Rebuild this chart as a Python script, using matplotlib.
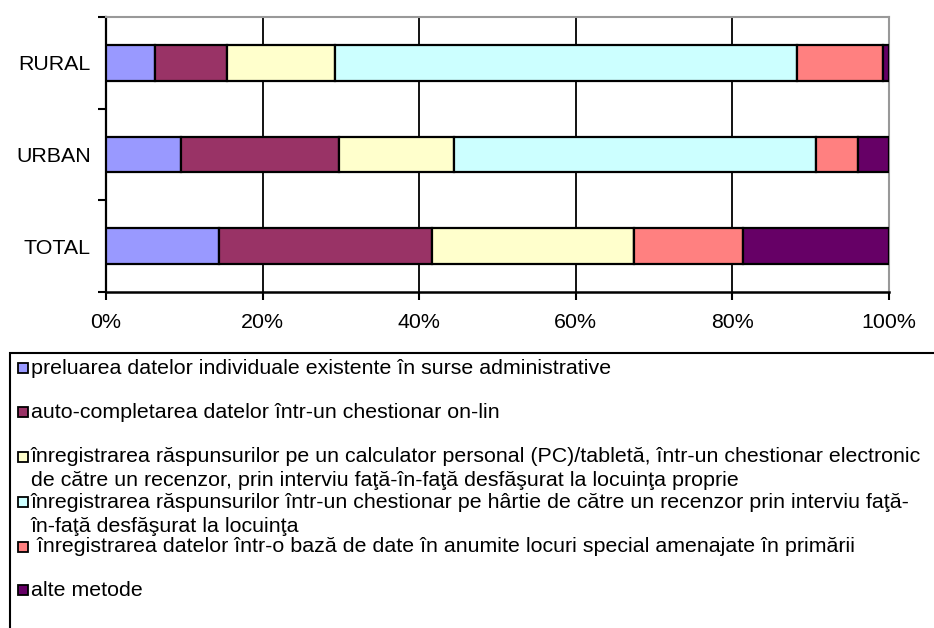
import matplotlib
matplotlib.use("Agg")
import matplotlib.pyplot as plt
from matplotlib.patches import Rectangle
import numpy as np

plt.rcParams['font.family'] = ['Liberation Sans', 'DejaVu Sans']

categories = ["TOTAL", "URBAN", "RURAL"]
preluarea = [14.4, 9.6, 6.3]
auto_compl = [27.2, 20.1, 9.2]
pc_tableta = [25.8, 14.8, 13.8]
hartie = [0.0, 46.2, 59.0]
primarii = [14.0, 5.3, 10.9]
alte = [18.6, 4.0, 0.8]

series = [preluarea, auto_compl, pc_tableta, hartie, primarii, alte]
colors = ["#9999FF", "#993366", "#FFFFCC", "#CCFFFF", "#FF8080", "#660066"]
labels = [
    "preluarea datelor individuale existente în surse administrative",
    "auto-completarea datelor într-un chestionar on-lin",
    "înregistrarea răspunsurilor pe un calculator personal (PC)/tabletă, într-un chestionar electronic\nde către un recenzor, prin interviu faţă-în-faţă desfăşurat la locuinţa proprie",
    "înregistrarea răspunsurilor într-un chestionar pe hârtie de către un recenzor prin interviu faţă-\nîn-faţă desfăşurat la locuinţa",
    " înregistrarea datelor într-o bază de date în anumite locuri special amenajate în primării",
    "alte metode",
]

W, H = 934, 628
fs = 15.4
fig = plt.figure(figsize=(W / 100, H / 100), dpi=100)
ax = fig.add_axes([106 / W, 1 - 292 / H, (889 - 106) / W, (292 - 17) / H])

y = np.arange(len(categories))
left = np.zeros(len(categories))
for vals, c in zip(series, colors):
    v = np.array(vals)
    ax.barh(y, v, left=left, height=0.39, color=c, edgecolor="black",
            linewidth=1.6, zorder=3)
    left += v

ax.set_xlim(0, 100)
ax.set_ylim(-0.5, 2.5)
ax.set_xticks(np.arange(0, 101, 20))
ax.set_xticklabels([f"{t}%" for t in range(0, 101, 20)], fontsize=fs)
ax.set_yticks(y)
ax.set_yticklabels(categories, fontsize=fs)
ax.tick_params(axis="y", length=0, pad=11)
ax.set_yticks([-0.5, 0.5, 1.5, 2.5], minor=True)
ax.tick_params(axis="y", which="minor", length=6, width=1.5, color="black")
ax.tick_params(axis="x", length=6, width=1.5, pad=9)

for xv in [20, 40, 60, 80]:
    ax.axvline(xv, color="black", linewidth=1.3, zorder=1)
ax.spines["top"].set_color("#999999")
ax.spines["top"].set_linewidth(1.5)
ax.spines["right"].set_color("#999999")
ax.spines["right"].set_linewidth(1.5)
ax.spines["left"].set_linewidth(1.6)
ax.spines["bottom"].set_linewidth(1.8)

# legend box drawn by hand
fig.patches.append(Rectangle((10 / W, -0.1), 1.0, 1 - 353 / H + 0.1,
                             transform=fig.transFigure, fill=False,
                             edgecolor="black", linewidth=1.5))
ys = [368, 412, 457, 502, 547, 590]
line_gap = 24
for lab, c, yy in zip(labels, colors, ys):
    fig.patches.append(Rectangle((18 / W, 1 - (yy + 5) / H), 10 / W, 10 / H,
                                 transform=fig.transFigure, facecolor=c,
                                 edgecolor="black", linewidth=1.3))
    for i, line in enumerate(lab.split("\n")):
        fig.text(31 / W, 1 - (yy + i * line_gap) / H, line, fontsize=fs,
                 va="center", ha="left")

fig.savefig("out.png", dpi=100)
